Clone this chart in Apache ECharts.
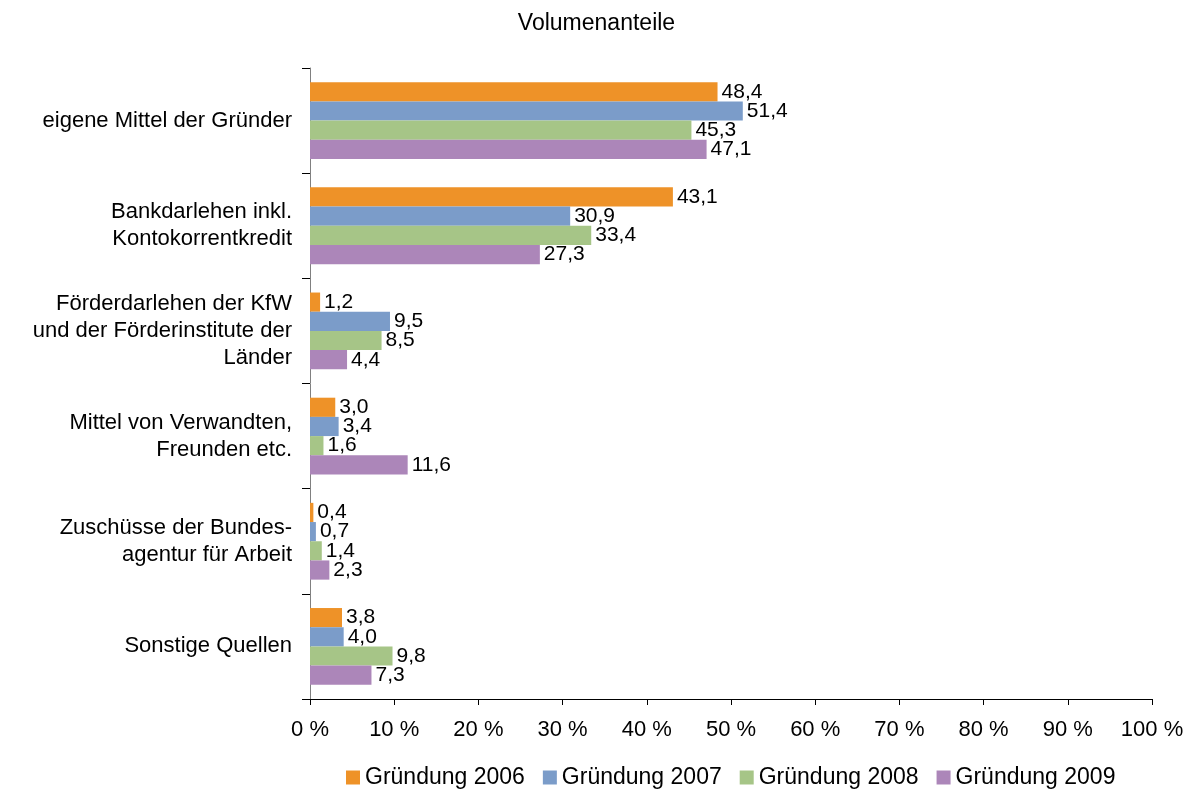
<!DOCTYPE html>
<html>
<head>
<meta charset="utf-8">
<script src="https://cdn.jsdelivr.net/npm/echarts@6/dist/echarts.min.js"></script>
<style>
  html, body { margin: 0; padding: 0; background: #fff; }
  #chart { width: 1193px; height: 789px; }
</style>
</head>
<body>
<div id="chart"></div>
<script>
var categories = [
    'eigene Mittel der Gründer',
    'Bankdarlehen inkl.\nKontokorrentkredit',
    'Förderdarlehen der KfW\nund der Förderinstitute der\nLänder',
    'Mittel von Verwandten,\nFreunden etc.',
    'Zuschüsse der Bundes-\nagentur für Arbeit',
    'Sonstige Quellen'
];
var seriesNames = ['Gründung 2006', 'Gründung 2007', 'Gründung 2008', 'Gründung 2009'];
var g2006 = [48.4, 43.1, 1.2, 3.0, 0.4, 3.8];
var g2007 = [51.4, 30.9, 9.5, 3.4, 0.7, 4.0];
var g2008 = [45.3, 33.4, 8.5, 1.6, 1.4, 9.8];
var g2009 = [47.1, 27.3, 4.4, 11.6, 2.3, 7.3];
var colors = ['#EE9228', '#7B9CC9', '#A6C587', '#AC86B9'];

var font = 'Liberation Sans, Arial, sans-serif';

var myChart = echarts.init(document.getElementById('chart'));

function makeSeries(name, data) {
    return {
        name: name,
        type: 'bar',
        data: data,
        barGap: '0%',
        barCategoryGap: '27%',
        label: {
            show: true,
            position: 'right',
            distance: 4,
            color: '#000',
            fontFamily: font,
            fontSize: 21,
            formatter: function (p) { return p.value.toFixed(1).replace('.', ','); }
        }
    };
}

myChart.setOption({
    backgroundColor: '#fff',
    color: colors,
    animation: false,
    title: {
        text: 'Volumenanteile',
        left: 'center',
        top: 7,
        textStyle: { fontFamily: font, fontSize: 23, fontWeight: 'normal', color: '#000' }
    },
    legend: {
        top: 761,
        left: 341,
        itemWidth: 14,
        itemHeight: 14,
        itemGap: 18,
        icon: 'rect',
        textStyle: { fontFamily: font, fontSize: 23, color: '#000' },
        data: seriesNames
    },
    grid: {
        left: 310,
        right: 41,
        top: 68,
        bottom: 90
    },
    xAxis: {
        type: 'value',
        min: 0,
        max: 100,
        interval: 10,
        axisLine: { show: true, lineStyle: { color: '#000' } },
        axisTick: { show: true, inside: false, length: 6, lineStyle: { color: '#000' } },
        splitLine: { show: false },
        axisLabel: {
            margin: 20,
            color: '#000',
            fontFamily: font,
            fontSize: 22,
            formatter: '{value} %'
        }
    },
    yAxis: {
        type: 'category',
        inverse: true,
        data: categories,
        axisLine: { show: true, lineStyle: { color: '#808080' } },
        axisTick: { show: true, length: 8, lineStyle: { color: '#000' } },
        axisLabel: {
            margin: 18,
            color: '#000',
            fontFamily: font,
            fontSize: 22,
            lineHeight: 27,
            align: 'right'
        }
    },
    series: [
        makeSeries(seriesNames[0], g2006),
        makeSeries(seriesNames[1], g2007),
        makeSeries(seriesNames[2], g2008),
        makeSeries(seriesNames[3], g2009)
    ]
});
</script>
</body>
</html>
